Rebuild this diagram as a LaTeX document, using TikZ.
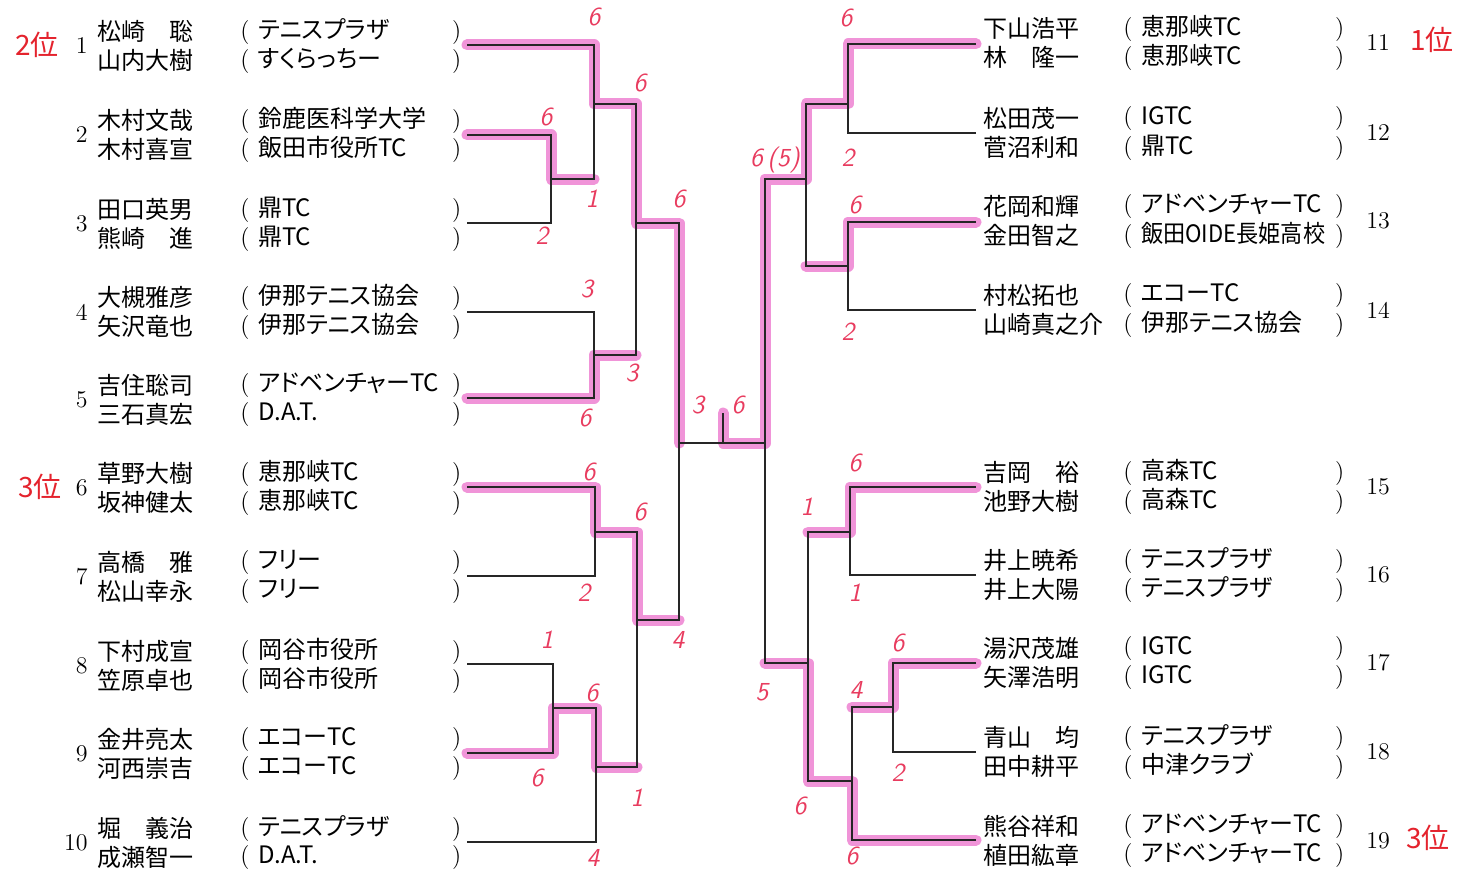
\documentclass[tikz,border=0pt]{standalone}
\usepackage{fontspec}
\newfontfamily\jp{Noto Sans CJK JP}
\newfontfamily\jpp{Noto Sans CJK JP}[RawFeature=+palt]
\usepackage{graphicx}
\usepackage{tikz}

\definecolor{hlpink}{RGB}{240,148,216}
\definecolor{scorered}{RGB}{232,60,95}
\definecolor{rankred}{RGB}{228,35,45}

% 所属欄：( 所属名 )，長い名前は横に詰める
\newsavebox\clubsave
\newcommand{\clubbox}[1]{\sbox\clubsave{\jpp #1}%
  (\hspace{4.3pt}\makebox[97pt][l]{\ifdim\wd\clubsave>92pt
    \resizebox{92pt}{\height}{\usebox\clubsave}\else\usebox\clubsave\fi})}

\tikzset{
  bline/.style={line width=0.6pt, black!85},
  hl/.style={line width=5.5pt, hlpink, line cap=round, line join=round},
  pname/.style={anchor=west, inner sep=0pt, font=\fontsize{12}{14}\selectfont\jp},
  club/.style={anchor=west, inner sep=0pt, font=\fontsize{12}{14}\selectfont},
  seed/.style={inner sep=0pt, font=\fontsize{12}{14}\selectfont},
  score/.style={inner sep=0pt, text=scorered, font=\fontsize{13}{14}\selectfont\sffamily\itshape},
  rank/.style={inner sep=0pt, text=rankred, font=\fontsize{14}{16}\selectfont\jp},
}

\begin{document}
\begin{tikzpicture}[x=0.5pt, y=-0.5pt]
  \useasboundingbox (0,0) rectangle (1472,872);

  % ===== 座標 =====
  % 左ブロック（各ペアの線の左端）
  \foreach \k/\y in {1/45, 2/135, 3/223, 4/312, 5/398,
                     6/487, 7/576, 8/664, 9/753, 10/842}
    \coordinate (t\k) at (467,\y);
  % 右ブロック（各ペアの線の右端）
  \foreach \k/\y in {11/44, 12/133, 13/222, 14/310, 15/487,
                     16/575, 17/663, 18/752, 19/840}
    \coordinate (t\k) at (976,\y);

  % 左の勝ち上がり点
  \coordinate (m23) at (551,179);
  \coordinate (a1) at (594,104);
  \coordinate (a2) at (594,355);
  \coordinate (b1) at (636,223);
  \coordinate (a3) at (595,532);
  \coordinate (m89) at (553,708);
  \coordinate (a4) at (596,767);
  \coordinate (b2) at (637,620);
  \coordinate (fL) at (679,443);
  % 右の勝ち上がり点
  \coordinate (r1) at (848,104);
  \coordinate (r2) at (848,266);
  \coordinate (s1) at (806,179);
  \coordinate (r3) at (850,532);
  \coordinate (r4) at (893,707);
  \coordinate (r5) at (852,781);
  \coordinate (s2) at (808,663);
  \coordinate (fR) at (765,443);
  % 優勝の印
  \coordinate (champ) at (723,413);

  % ===== 勝ち上がり（蛍光ペン） =====
  \draw[hl] (t1) -| (a1) -| (b1) -| (fL);
  \draw[hl] (t2) -| (m23) -- (m23 -| a1);
  \draw[hl] (t5) -| (a2) -- (a2 -| b1);
  \draw[hl] (t6) -| (a3) -| (b2) -- (b2 -| fL);
  \draw[hl] (t9) -| (m89) -| (a4) -- (a4 -| b2);
  \draw[hl] (champ) -- (champ |- fR) -- (fR) |- (s1) |- (r1) |- (t11);
  \draw[hl] (t13) -| (r2) -- (r2 -| s1);
  \draw[hl] (t15) -| (r3) -- (r3 -| s2);
  \draw[hl] (t17) -| (r4) -- (r4 -| r5);
  \draw[hl] (t19) -| (r5) -| (s2) -- (s2 -| fR);

  % ===== トーナメント線 =====
  \foreach \c/\p in {t1/a1, m23/a1, t2/m23, t3/m23, t4/a2, t5/a2,
                     a1/b1, a2/b1, t6/a3, t7/a3, t8/m89, t9/m89,
                     m89/a4, t10/a4, a3/b2, a4/b2, b1/fL, b2/fL,
                     t11/r1, t12/r1, t13/r2, t14/r2, r1/s1, r2/s1,
                     t15/r3, t16/r3, t17/r4, t18/r4, r4/r5, t19/r5,
                     r3/s2, r5/s2, s1/fR, s2/fR}
    \draw[bline] (\c) -| (\p);
  \draw[bline] (fL) -- (fR);
  \draw[bline] (champ) -- (champ |- fR);

  % ===== 左ブロックの選手 =====
  \foreach \k/\y/\na/\nb/\ca/\cb in {
      1/46/松崎　聡/山内大樹/テニスプラザ/すくらっちー,
      2/135/木村文哉/木村喜宣/鈴鹿医科学大学/飯田市役所TC,
      3/224/田口英男/熊崎　進/鼎TC/鼎TC,
      4/312/大槻雅彦/矢沢竜也/伊那テニス協会/伊那テニス協会,
      5/400/吉住聡司/三石真宏/アドベンチャーTC/D.A.T.,
      6/488/草野大樹/坂神健太/恵那峡TC/恵那峡TC,
      7/577/高橋　雅/松山幸永/フリー/フリー,
      8/666/下村成宣/笠原卓也/岡谷市役所/岡谷市役所,
      9/754/金井亮太/河西崇吉/エコーTC/エコーTC,
      10/843/堀　義治/成瀬智一/テニスプラザ/D.A.T.}
  {
    \node[seed, anchor=east] (sd\k) at (88,\y) {\k};
    \node[pname] (na\k) at (97,\y-14.5) {\na};
    \node[pname] (nb\k) at (97,\y+14.5) {\nb};
    \node[club] (ca\k) at (240,\y-14.5) {\clubbox{\ca}};
    \node[club] (cb\k) at (240,\y+14.5) {\clubbox{\cb}};
  }

  % ===== 右ブロックの選手 =====
  \foreach \k/\y/\na/\nb/\ca/\cb in {
      11/43/下山浩平/林　隆一/恵那峡TC/恵那峡TC,
      12/133/松田茂一/菅沼利和/IGTC/鼎TC,
      13/221/花岡和輝/金田智之/アドベンチャーTC/飯田OIDE長姫高校,
      14/310/村松拓也/山崎真之介/エコーTC/伊那テニス協会,
      15/487/吉岡　裕/池野大樹/高森TC/高森TC,
      16/575/井上暁希/井上大陽/テニスプラザ/テニスプラザ,
      17/663/湯沢茂雄/矢澤浩明/IGTC/IGTC,
      18/752/青山　均/田中耕平/テニスプラザ/中津クラブ,
      19/841/熊谷祥和/植田紘章/アドベンチャーTC/アドベンチャーTC}
  {
    \node[seed, anchor=west] (sd\k) at (1366,\y) {\k};
    \node[pname] (na\k) at (983,\y-14.5) {\na};
    \node[pname] (nb\k) at (983,\y+14.5) {\nb};
    \node[club] (ca\k) at (1123,\y-14.5) {\clubbox{\ca}};
    \node[club] (cb\k) at (1123,\y+14.5) {\clubbox{\cb}};
  }

  % ===== スコア（手書き） =====
  \foreach \x/\y/\s [count=\i] in {
      594/17/6, 640/83/6, 546/117/6, 592/199/1, 542/236/2,
      679/199/6, 587/289/3, 632/373/3, 585/418/6, 698/405/3,
      738/405/6, 589/472/6, 640/512/6, 584/593/2, 678/640/4,
      547/640/1, 592/693/6, 537/778/6, 637/798/1, 593/858/4,
      762/692/5, 800/806/6, 846/18/6, 848/158/2, 775/160/6\,(5),
      855/205/6, 848/332/2, 855/463/6, 807/507/1, 855/593/1,
      898/643/6, 856/690/4, 898/773/2, 852/856/6}
    \node[score] (sc\i) at (\x,\y) {\s};

  % ===== 順位 =====
  \node[rank] (rk2) at (37,45) {2位};
  \node[rank] (rk3a) at (40,487) {3位};
  \node[rank] (rk1) at (1432,40) {1位};
  \node[rank] (rk3b) at (1428,838) {3位};
\end{tikzpicture}
\end{document}
